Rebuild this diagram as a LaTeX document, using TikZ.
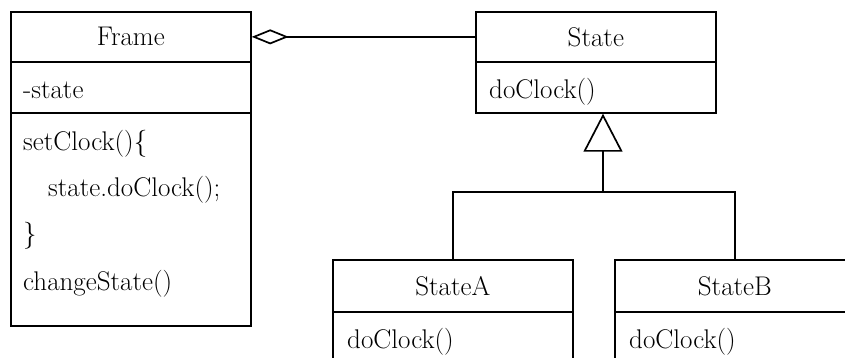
\documentclass[tikz,border=0pt]{standalone}
\usetikzlibrary{arrows.meta}
\begin{document}
\begin{tikzpicture}[x=1pt,y=-1pt,
  every node/.style={font=\fontsize{27pt}{32pt}\selectfont},
  comp/.style={draw,line width=1.7pt,minimum width=240pt,inner sep=0pt,anchor=north west},
  member/.style={inner sep=0pt,anchor=base west},
  conn/.style={line width=1.7pt},
  aggr/.style={conn,-{Diamond[open,length=37pt,width=15pt,line width=1.7pt]}},
  gen/.style={conn,-{Triangle[open,length=38pt,width=39pt,line width=1.7pt]}}]
\useasboundingbox (0,0) rectangle (845,357);
\clip (0,0) rectangle (845,357);
% Frame
\node[comp,minimum height=50pt] (frameT) at (10,11) {Frame};
\node[comp,minimum height=51pt] (frameA) at (10,61) {};
\node[comp,minimum height=213pt] (frameM) at (10,112) {};
\node[member] (fa1) at (23,98) {-state};
\node[member] (fm1) at (23,150) {setClock()\{};
\node[member] (fm2) at (48,196) {state.doClock();};
\node[member] (fm3) at (23,242) {\}};
\node[member] (fm4) at (23,290) {changeState()};
% State
\node[comp,minimum height=50pt] (stateT) at (475,11) {State};
\node[comp,minimum height=51pt] (stateM) at (475,61) {};
\node[member] (sm1) at (489,98) {doClock()};
% StateA
\node[comp,minimum height=52pt] (stateAT) at (332,259) {StateA};
\node[comp,minimum height=80pt] (stateAM) at (332,311) {};
\node[member] (am1) at (347,348) {doClock()};
% StateB
\node[comp,minimum height=52pt] (stateBT) at (614,259) {StateB};
\node[comp,minimum height=80pt] (stateBM) at (614,311) {};
\node[member] (bm1) at (629,348) {doClock()};
% connectors
\draw[aggr] (stateT.west) -- (frameT.east);
\coordinate (j) at (603,192);
\draw[gen] (j) -- (j |- stateM.south);
\draw[conn] (stateAT.north) |- (j) -| (stateBT.north);
\end{tikzpicture}
\end{document}
